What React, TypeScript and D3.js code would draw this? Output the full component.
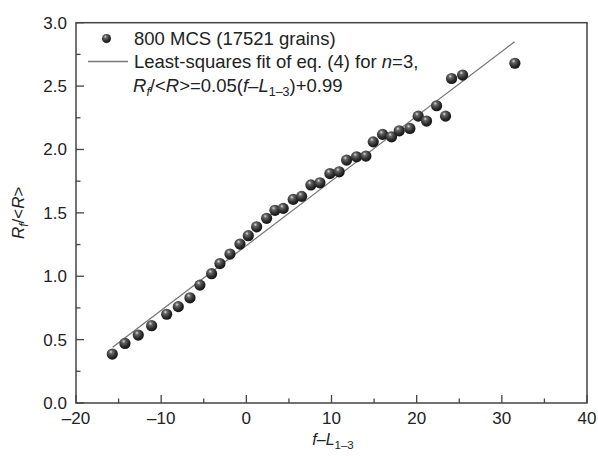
import { useEffect, useRef } from "react";
import * as d3 from "d3";

// data
const fMinusL = [
  -15.74, -14.25, -12.69, -11.12, -9.35, -7.99, -6.62, -5.45, -4.08, -3.1,
  -1.92, -0.75, 0.23, 1.21, 2.38, 3.36, 4.33, 5.5, 6.49, 7.58, 8.64, 9.81,
  10.9, 11.77, 12.94, 14.04, 14.9, 16.0, 17.05, 17.95, 19.2, 20.18, 21.16,
  22.34, 23.39, 24.1, 25.39, 31.53,
];
const rRatio = [
  0.386, 0.47, 0.536, 0.61, 0.7, 0.76, 0.83, 0.93, 1.02, 1.1, 1.175, 1.254,
  1.32, 1.39, 1.457, 1.52, 1.535, 1.606, 1.63, 1.72, 1.737, 1.81, 1.824,
  1.916, 1.942, 1.948, 2.06, 2.119, 2.1, 2.147, 2.166, 2.263, 2.224, 2.345,
  2.263, 2.56, 2.587, 2.68,
];
const fitX = [-15.7, 31.5];
const fitY = [0.44, 2.85];
const xTicks = [-20, -10, 0, 10, 20, 30, 40];
const yTicks = [0, 0.5, 1, 1.5, 2, 2.5, 3];
const seriesLabel = "800 MCS (17521 grains)";
const fitLabel = "Least-squares fit of eq. (4) for ";

const W = 598;
const H = 456;
const FONT = "'Liberation Sans', Arial, sans-serif";
const TICK_FS = 17;
const LEG_FS = 18.5;

const App = () => {
  const svgRef = useRef<SVGSVGElement | null>(null);

  useEffect(() => {
    const svg = d3.select(svgRef.current);
    svg.selectAll("*").remove();

    const x = d3.scaleLinear().domain([-20, 40]).range([76, 587]);
    const y = d3.scaleLinear().domain([0, 3]).range([403, 22.7]);

    // ball gradient
    const defs = svg.append("defs");
    const grad = defs
      .append("radialGradient")
      .attr("id", "ball")
      .attr("cx", "40%")
      .attr("cy", "35%")
      .attr("r", "65%")
      .attr("fx", "38%")
      .attr("fy", "30%");
    grad.append("stop").attr("offset", "0%").attr("stop-color", "#e0e0e0");
    grad.append("stop").attr("offset", "25%").attr("stop-color", "#666");
    grad.append("stop").attr("offset", "70%").attr("stop-color", "#2a2a2a");
    grad.append("stop").attr("offset", "100%").attr("stop-color", "#151515");

    const axisCol = "#444";

    // frame
    svg
      .append("rect")
      .attr("x", x(-20))
      .attr("y", y(3))
      .attr("width", x(40) - x(-20))
      .attr("height", y(0) - y(3))
      .attr("fill", "none")
      .attr("stroke", axisCol)
      .attr("stroke-width", 1.5);

    // x ticks (inward), minor every 5
    const xAx = svg.append("g").attr("transform", `translate(0,${y(0)})`);
    xAx
      .selectAll("line.maj")
      .data(xTicks)
      .enter()
      .append("line")
      .attr("x1", (d) => x(d))
      .attr("x2", (d) => x(d))
      .attr("y1", 0)
      .attr("y2", -8)
      .attr("stroke", axisCol)
      .attr("stroke-width", 1.3);
    xAx
      .selectAll("line.min")
      .data(d3.range(-15, 40, 10))
      .enter()
      .append("line")
      .attr("x1", (d) => x(d))
      .attr("x2", (d) => x(d))
      .attr("y1", 0)
      .attr("y2", -4.5)
      .attr("stroke", axisCol)
      .attr("stroke-width", 1.3);
    xAx
      .selectAll("text")
      .data(xTicks)
      .enter()
      .append("text")
      .attr("x", (d) => x(d))
      .attr("y", 21)
      .attr("text-anchor", "middle")
      .attr("font-family", FONT)
      .attr("font-size", TICK_FS)
      .attr("fill", "#222")
      .text((d) => (d < 0 ? "\u2013" + Math.abs(d) : String(d)));

    // y ticks
    const yAx = svg.append("g").attr("transform", `translate(${x(-20)},0)`);
    yAx
      .selectAll("line.maj")
      .data(yTicks)
      .enter()
      .append("line")
      .attr("x1", 0)
      .attr("x2", 8)
      .attr("y1", (d) => y(d))
      .attr("y2", (d) => y(d))
      .attr("stroke", axisCol)
      .attr("stroke-width", 1.3);
    yAx
      .selectAll("line.min")
      .data(d3.range(0.25, 3, 0.5))
      .enter()
      .append("line")
      .attr("x1", 0)
      .attr("x2", 4.5)
      .attr("y1", (d) => y(d))
      .attr("y2", (d) => y(d))
      .attr("stroke", axisCol)
      .attr("stroke-width", 1.3);
    yAx
      .selectAll("text")
      .data(yTicks)
      .enter()
      .append("text")
      .attr("x", -9)
      .attr("y", (d) => y(d) + 6)
      .attr("text-anchor", "end")
      .attr("font-family", FONT)
      .attr("font-size", TICK_FS)
      .attr("fill", "#222")
      .text((d) => d.toFixed(1));

    // fit line
    svg
      .append("line")
      .attr("x1", x(fitX[0]))
      .attr("y1", y(fitY[0]))
      .attr("x2", x(fitX[1]))
      .attr("y2", y(fitY[1]))
      .attr("stroke", "#777")
      .attr("stroke-width", 1.3);

    // points
    svg
      .append("g")
      .selectAll("circle")
      .data(fMinusL)
      .enter()
      .append("circle")
      .attr("cx", (d) => x(d))
      .attr("cy", (d, i) => y(rRatio[i]))
      .attr("r", 5.6)
      .attr("fill", "url(#ball)");

    // legend
    const leg = svg
      .append("g")
      .attr("font-family", FONT)
      .attr("font-size", LEG_FS)
      .attr("fill", "#222");
    leg
      .append("circle")
      .attr("cx", 106.5)
      .attr("cy", 38.5)
      .attr("r", 4.5)
      .attr("fill", "url(#ball)");
    leg.append("text").attr("x", 134).attr("y", 45).text(seriesLabel);
    leg
      .append("line")
      .attr("x1", 88)
      .attr("x2", 128)
      .attr("y1", 61.5)
      .attr("y2", 61.5)
      .attr("stroke", "#777")
      .attr("stroke-width", 1.3);
    const t2 = leg.append("text").attr("x", 134).attr("y", 67.5);
    t2.append("tspan").text(fitLabel);
    t2.append("tspan").attr("font-style", "italic").text("n");
    t2.append("tspan").text("=3,");

    const t3 = leg.append("text").attr("x", 133).attr("y", 92);
    t3.append("tspan").attr("font-style", "italic").text("R");
    t3.append("tspan")
      .attr("font-style", "italic")
      .attr("font-size", 12.5)
      .attr("dy", 4)
      .text("f");
    t3.append("tspan").attr("dy", -4).text("/<");
    t3.append("tspan").attr("font-style", "italic").text("R");
    t3.append("tspan").text(">=0.05(");
    t3.append("tspan").attr("font-style", "italic").text("f");
    t3.append("tspan").text("\u2013");
    t3.append("tspan").attr("font-style", "italic").text("L");
    t3.append("tspan").attr("font-size", 12.5).attr("dy", 4).text("1\u20133");
    t3.append("tspan").attr("dy", -4).text(")+0.99");

    // x label
    const xl = svg
      .append("text")
      .attr("x", 333)
      .attr("y", 445)
      .attr("text-anchor", "middle")
      .attr("font-family", FONT)
      .attr("font-size", 16)
      .attr("fill", "#222");
    xl.append("tspan").attr("font-style", "italic").text("f");
    xl.append("tspan").text("\u2013");
    xl.append("tspan").attr("font-style", "italic").text("L");
    xl.append("tspan").attr("font-size", 11.5).attr("dy", 4).text("1\u20133");

    // y label
    const yl = svg
      .append("text")
      .attr("transform", `translate(24,${(y(0) + y(3)) / 2}) rotate(-90)`)
      .attr("text-anchor", "middle")
      .attr("font-family", FONT)
      .attr("font-size", TICK_FS)
      .attr("fill", "#222");
    yl.append("tspan").attr("font-style", "italic").text("R");
    yl.append("tspan")
      .attr("font-style", "italic")
      .attr("font-size", 12)
      .attr("dy", 4)
      .text("f");
    yl.append("tspan").attr("dy", -4).text("/<");
    yl.append("tspan").attr("font-style", "italic").text("R");
    yl.append("tspan").text(">");
  }, []);

  return (
    <svg
      ref={svgRef}
      width={W}
      height={H}
      style={{ position: "absolute", left: 0, top: 0, background: "#fff" }}
    ></svg>
  );
};

export default App;
